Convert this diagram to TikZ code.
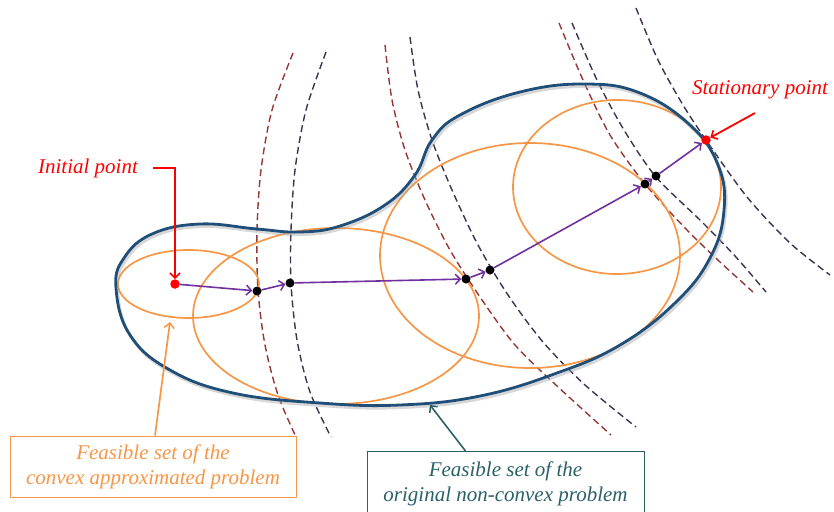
\documentclass[tikz,border=0pt]{standalone}
\usepackage{fontspec}
\setmainfont{Liberation Serif}
\usetikzlibrary{arrows.meta}
\definecolor{bblue}{HTML}{1F4E79}
\definecolor{oorange}{HTML}{F79646}
\definecolor{ppurple}{HTML}{7030A0}
\definecolor{dred}{HTML}{953735}
\definecolor{dnavy}{HTML}{3F3151}
\definecolor{tteal}{HTML}{2B6068}
\definecolor{rred}{HTML}{FF0000}
\begin{document}
\begin{tikzpicture}[x=1pt,y=-1pt,
  dot/.style={circle,fill=black,inner sep=0pt,minimum size=9pt},
  rdot/.style={circle,fill=rred,inner sep=0pt,minimum size=9.5pt},
  iterarr/.style={draw=ppurple,line width=1.6pt,-{Straight Barb[length=5pt,width=10pt,line width=1.5pt]}},
  redarr/.style={draw=rred,line width=1.8pt,-{Straight Barb[length=5pt,width=10pt,line width=1.6pt]}},
  feas/.style={draw=oorange,line width=1.7pt},
  lvlred/.style={draw=dred,line width=1.4pt,dash pattern=on 7pt off 4pt},
  lvlnavy/.style={draw=dnavy,line width=1.4pt,dash pattern=on 7pt off 4pt},
  bound/.style={draw=bblue,line width=2.8pt},
  lbl/.style={font=\itshape\fontsize{21}{25}\selectfont,align=center},
  boundpath/.style={smooth cycle,tension=0.7},
]
\useasboundingbox (0,0) rectangle (834,511);

% level curves
\draw[lvlred] plot[smooth] coordinates {(293,53) (272,110) (261,170) (257,230) (258,290) (265,345) (278,395) (296,437)};
\draw[lvlnavy] plot[smooth] coordinates {(326,52) (306,110) (295,170) (291,230) (291,283) (297,340) (310,392) (331,437)};
\draw[lvlred] plot[smooth] coordinates {(385,45) (392,100) (405,150) (425,200) (450,250) (480,297) (515,345) (557,386) (611,435)};
\draw[lvlnavy] plot[smooth] coordinates {(410,37) (418,90) (432,140) (452,190) (478,245) (508,295) (543,342) (585,385) (636,427)};
\draw[lvlred] plot[smooth] coordinates {(559,23) (583,80) (610,135) (645,184) (687,230) (720,262) (753,292)};
\draw[lvlnavy] plot[smooth] coordinates {(572,23) (597,80) (624,130) (656,177) (700,220) (735,256) (766,292)};
\draw[lvlnavy] plot[smooth] coordinates {(636,8) (658,60) (683,105) (706,140) (747,197) (790,243) (830,275)};

% convex approximations
\draw[feas] (188.5,284) ellipse [x radius=70.5pt, y radius=34pt];
\draw[feas] (336,316) ellipse [x radius=143pt, y radius=88pt];
\draw[feas] (530,255.5) ellipse [x radius=150pt, y radius=112.5pt];
\draw[feas] (617,187) ellipse [x radius=104pt, y radius=87pt];

% original feasible set
\begin{scope}[shift={(1.5,2.5)}]
\draw[draw=black!35,opacity=0.45,line width=3pt] plot[boundpath] coordinates {(116,288) (124,258) (152,234) (200,224) (257,229) (300,232) (340,226) (385,205) (415,175) (432,140) (460,115) (520,92) (585,84) (640,93) (690,125) (718,165) (724,210) (710,258) (675,303) (620,345) (557,373) (480,396) (400,405) (320,403) (233,393) (170,370) (130,335)};
\end{scope}
\draw[bound] plot[boundpath] coordinates {(116,288) (124,258) (152,234) (200,224) (257,229) (300,232) (340,226) (385,205) (415,175) (432,140) (460,115) (520,92) (585,84) (640,93) (690,125) (718,165) (724,210) (710,258) (675,303) (620,345) (557,373) (480,396) (400,405) (320,403) (233,393) (170,370) (130,335)};

% iterates
\node[rdot] (p0) at (175,284) {};
\node[dot] (p1) at (257,291) {};
\node[dot] (p2) at (290,283) {};
\node[dot] (p3) at (466,279) {};
\node[dot] (p4) at (490,270) {};
\node[dot] (p5) at (645,184) {};
\node[dot] (p6) at (656,176) {};
\node[rdot] (ps) at (706,140) {};

\draw[iterarr] (p0) -- (p1);
\draw[iterarr] (p1) -- (p2);
\draw[iterarr] (p2) -- (p3);
\draw[iterarr] (p3) -- (p4);
\draw[iterarr] (p4) -- (p5);
\draw[iterarr] (p5) -- (p6);
\draw[iterarr] (p6) -- (ps);

% labels
\node[lbl,text=rred] (init) at (88,168) {Initial point};
\draw[redarr] ([xshift=12pt]init.east) -| (p0);
\node[lbl,text=rred] (stxt) at (760,90) {Stationary point};
\coordinate (sa) at (755,113);
\draw[redarr] (sa) -- (ps);

\node[lbl,text=oorange,draw=oorange,line width=1pt,minimum width=286pt,minimum height=61pt] (cbox) at (153,466.5) {Feasible set of the\\convex approximated problem};
\coordinate (e1b) at (170,322);
\draw[draw=oorange,line width=1.7pt,-{Straight Barb[length=5pt,width=10pt,line width=1.5pt]}] ([xshift=2pt]cbox.north) -- (e1b);

\node[lbl,text=tteal,draw=tteal,line width=1pt,minimum width=277pt,inner ysep=10pt,anchor=north] (tbox) at (505.5,451) {Feasible set of the\\original non-convex problem};
\coordinate (bb) at (430,405);
\draw[draw=tteal,line width=1.6pt,-{Straight Barb[length=5pt,width=10pt,line width=1.5pt]}] ([xshift=-40pt]tbox.north) -- (bb);
\end{tikzpicture}
\end{document}
